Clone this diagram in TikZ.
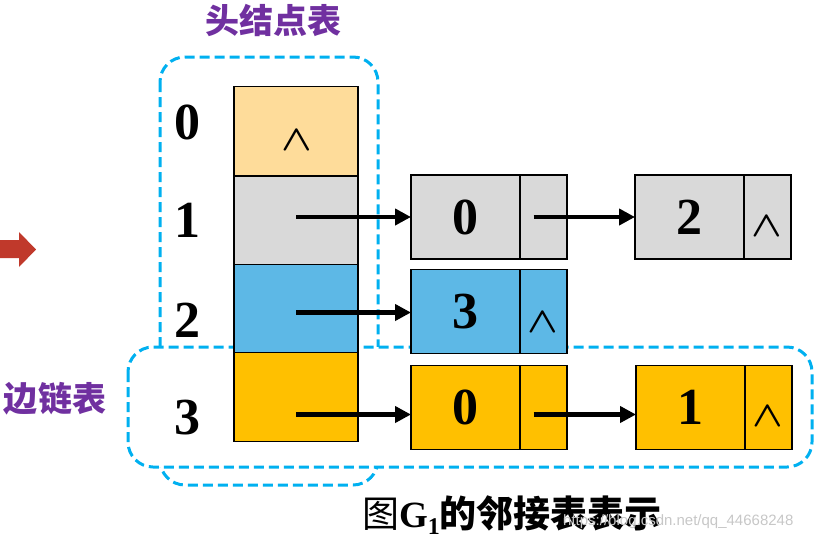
\documentclass[tikz,border=0pt]{standalone}
\usepackage{amsmath}
\usepackage{fontspec}
\usepackage{graphicx}
\setmainfont{Liberation Serif}
\newfontfamily\cjk{Noto Sans CJK SC}
\newfontfamily\wmfont{Liberation Sans}
\usetikzlibrary{arrows.meta}
\definecolor{cOrange}{RGB}{254,220,154}
\definecolor{cGray}{RGB}{217,217,217}
\definecolor{cBlue}{RGB}{93,184,230}
\definecolor{cYellow}{RGB}{255,192,0}
\definecolor{cDash}{RGB}{0,176,240}
\definecolor{cPurple}{RGB}{112,48,160}
\definecolor{cRed}{RGB}{192,57,43}
\newcommand{\nullsym}{\scalebox{4}[3.6]{$\boldsymbol{\wedge}$}}
\tikzset{
  cellbox/.style={draw=black, line width=1.3pt, inner sep=0pt, outer sep=0pt},
  headcell/.style={cellbox, minimum width=124pt, minimum height=89pt},
  datacell/.style={cellbox, minimum width=109pt, minimum height=84pt, font=\fontsize{52}{52}\selectfont\bfseries},
  ptrcell/.style={cellbox, minimum width=47pt, minimum height=84pt},
  idxlabel/.style={font=\fontsize{52}{52}\selectfont\bfseries, inner sep=0pt},
  nullmark/.style={inner sep=0pt},
  ptr/.style={line width=4.5pt, -{Triangle[length=16pt,width=16pt]}},
  grpbox/.style={draw=cDash, line width=3pt, dash pattern=on 10pt off 5pt, rounded corners=25pt},
  grplabel/.style={font=\cjk\bfseries\fontsize{34}{34}\selectfont, text=cPurple, inner sep=0pt}
}
\begin{document}
\begin{tikzpicture}[x=1pt,y=-1pt]
\useasboundingbox (0,0) rectangle (818,541);

% red arrow on the left
\fill[cRed] (0,240) -- (19,240) -- (19,232) -- (36,249.5) -- (19,267) -- (19,258) -- (0,258) -- cycle;

% group frames
\draw[grpbox] (160,57) rectangle (378,485);
\draw[grpbox, fill=white] (128,347) rectangle (812,467);

% labels
\node[grplabel] (lhead) at (273,20) {头结点表};
\node[grplabel] (ledge) at (55,399) {边链表};

% index labels
\node[idxlabel] (i0) at (187,122) {0};
\node[idxlabel] (i1) at (187,220) {1};
\node[idxlabel] (i2) at (187,320) {2};
\node[idxlabel] (i3) at (187,418) {3};

% head table
\node[headcell, fill=cOrange] (h0) at (296,131) {};
\node[headcell, fill=cGray]   (h1) at (296,220.5) {};
\node[headcell, fill=cBlue]   (h2) at (296,309) {};
\node[headcell, fill=cYellow] (h3) at (296,397) {};
\node[nullmark] (h0n) at (297,140) {\nullsym};

% row 1
\node[datacell, fill=cGray] (n10) at (465.5,217) {0};
\node[ptrcell, fill=cGray, anchor=west] (p10) at (n10.east) {};
\node[datacell, fill=cGray] (n11) at (689.5,217) {2};
\node[ptrcell, fill=cGray, anchor=west] (p11) at (n11.east) {};
\node[nullmark] (p11n) at (767,226) {\nullsym};

% row 2
\node[datacell, fill=cBlue] (n20) at (465.5,311.5) {3};
\node[ptrcell, fill=cBlue, anchor=west] (p20) at (n20.east) {};
\node[nullmark] (p20n) at (543,322) {\nullsym};

% row 3
\node[datacell, fill=cYellow] (n30) at (465.5,407.5) {0};
\node[ptrcell, fill=cYellow, anchor=west] (p30) at (n30.east) {};
\node[datacell, fill=cYellow] (n31) at (690.5,407.5) {1};
\node[ptrcell, fill=cYellow, anchor=west] (p31) at (n31.east) {};
\node[nullmark] (p31n) at (768,416) {\nullsym};

% pointers
\draw[ptr] (n10.west -| h1.center) -- (n10.west);
\draw[ptr] ([xshift=-10pt]p10.center) -- (n11.west);
\draw[ptr] ([yshift=-1pt]n20.west -| h2.center) -- ([yshift=-1pt]n20.west);
\draw[ptr] ([yshift=-7pt]n30.west -| h3.center) -- ([yshift=-7pt]n30.west);
\draw[ptr] ([xshift=-10pt,yshift=-7pt]p30.center) -- ([yshift=-7pt]n31.west);

% caption
\node[inner sep=0pt] (cap) at (512,515) {\fontsize{37}{37}\selectfont{\cjk 图}\textbf{G}\raisebox{-7pt}{\fontsize{24}{24}\selectfont\bfseries 1}{\cjk\bfseries 的邻接表表示}};

% watermark
\node[anchor=west, inner sep=0pt, text=black!22, font=\wmfont\fontsize{15}{15}\selectfont] (wm) at (563,522) {https://blog.csdn.net/qq\_44668248};
\end{tikzpicture}
\end{document}
